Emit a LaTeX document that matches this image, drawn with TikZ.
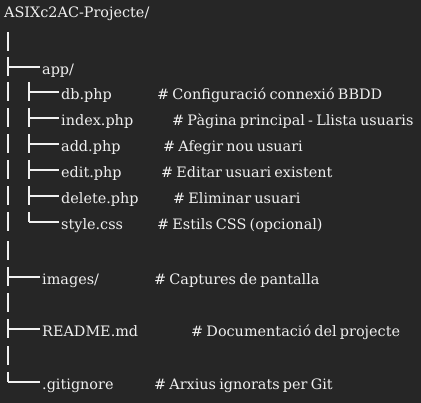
\documentclass[tikz,border=0pt]{standalone}
\usepackage{fontspec}
\setmainfont[WordSpace=0.7]{DejaVu Serif}
\definecolor{bg}{HTML}{262626}
\definecolor{fg}{HTML}{F0F0F0}
\begin{document}
\begin{tikzpicture}[x=1pt,y=-1pt,
  txt/.style={anchor=base west,inner sep=0pt,text=fg,font=\fontsize{14.4}{18}\selectfont},
  vbar/.style={draw=fg,line width=1.5pt},
  hbar/.style={draw=fg,line width=1.3pt}]
\fill[bg] (0,0) rectangle (421,403);
\useasboundingbox (0,0) rectangle (421,403);
% texts
\node[txt] (root) at (4,17.5) {ASIXc2AC-Projecte/};
\node[txt] (app) at (42,75) {app/};
\node[txt] (db) at (61,100) {db.php};
\node[txt] (dbc) at (157,100) {\# Configuració connexió BBDD};
\node[txt] (index) at (61,126) {index.php};
\node[txt] (indexc) at (172,126) {\# Pàgina principal - Llista usuaris};
\node[txt] (add) at (61,152) {add.php};
\node[txt] (addc) at (163,152) {\# Afegir nou usuari};
\node[txt] (edit) at (61,178) {edit.php};
\node[txt] (editc) at (161,178) {\# Editar usuari existent};
\node[txt] (delete) at (61,204) {delete.php};
\node[txt] (deletec) at (173,204) {\# Eliminar usuari};
\node[txt] (style) at (61,230) {style.css};
\node[txt] (stylec) at (157,230) {\# Estils CSS (opcional)};
\node[txt] (images) at (42,285) {images/};
\node[txt] (imagesc) at (154,285) {\# Captures de pantalla};
\node[txt] (readme) at (42,337) {README.md};
\node[txt] (readmec) at (191,337) {\# Documentació del projecte};
\node[txt] (git) at (42,390) {.gitignore};
\node[txt] (gitc) at (154,390) {\# Arxius ignorats per Git};
% plain vertical bars
\foreach \y in {42,251,303,356} \draw[vbar] (8,\y-9.5) -- (8,\y+9.5);
% outer bars beside app children
\foreach \y in {92,118,144,170,196,222} \draw[vbar] (8,\y-9.5) -- (8,\y+9.5);
% top-level tees
\foreach \n/\y in {app/67,images/277,readme/329} {
  \draw[vbar] (8,\y-10) -- (8,\y+9);
  \draw[hbar] (8,\y) -- ([shift={(-2pt,8pt)}]\n.base west);
}
\draw[vbar] (8,382-10) -- (8,382);
\draw[hbar] (8,382) -- ([shift={(-2pt,8pt)}]git.base west);
% inner tees
\foreach \n/\y in {db/92,index/118,add/144,edit/170,delete/196} {
  \draw[vbar] (29,\y-10) -- (29,\y+9);
  \draw[hbar] (29,\y) -- ([shift={(-2pt,8pt)}]\n.base west);
}
\draw[vbar] (29,222-10) -- (29,222);
\draw[hbar] (29,222) -- ([shift={(-2pt,8pt)}]style.base west);
\end{tikzpicture}
\end{document}
